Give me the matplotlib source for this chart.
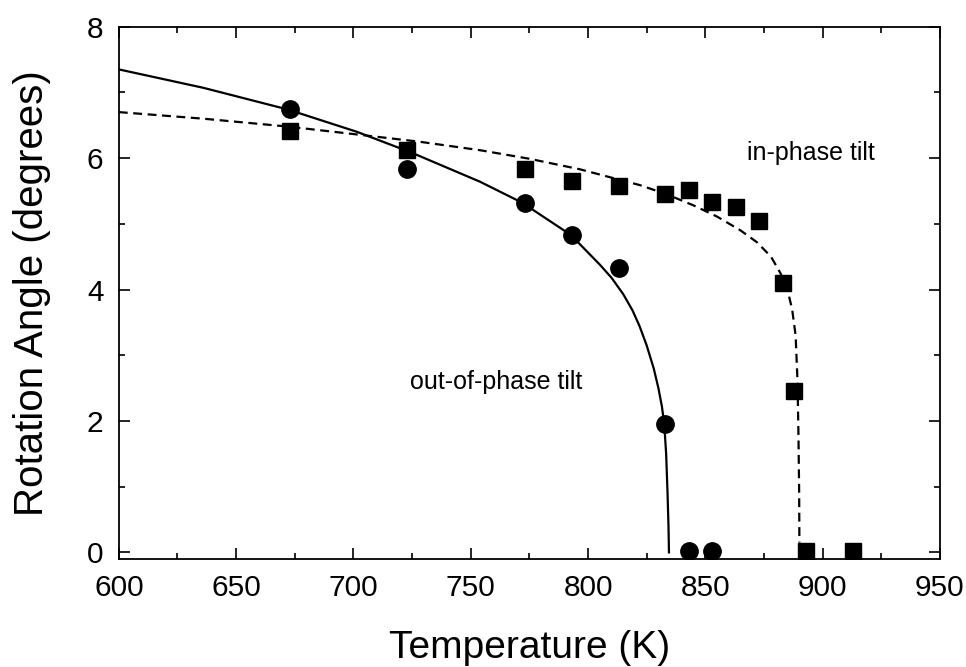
import numpy as np
import matplotlib
matplotlib.use("Agg")
import matplotlib.pyplot as plt
from matplotlib.ticker import MultipleLocator

plt.rcParams['font.family'] = ['Liberation Sans', 'DejaVu Sans']

# Measured rotation angles (degrees) vs temperature (K)
outPhaseT = [673, 723, 773, 793, 813, 833, 843, 853]
outPhaseAngle = [6.75, 5.84, 5.32, 4.83, 4.32, 1.95, 0.02, 0.02]

inPhaseT = [673, 723, 773, 793, 813, 833, 843, 853, 863, 873, 883, 888, 893, 913]
inPhaseAngle = [6.42, 6.13, 5.83, 5.65, 5.58, 5.45, 5.52, 5.33, 5.25, 5.05, 4.10, 2.45, 0.02, 0.02]

# Fitted curves
outFitT = [600, 636, 672, 701.5, 725, 754, 772, 792.7, 805, 810, 815, 819, 822, 825,
           828, 830, 831.5, 832.5, 833.3, 833.9, 834.3, 834.5]
outFitAngle = [7.35, 7.07, 6.74, 6.40, 6.08, 5.64, 5.32, 4.83, 4.38, 4.18, 3.93, 3.68, 3.44, 3.15,
               2.80, 2.50, 2.22, 1.95, 1.50, 0.90, 0.40, 0.00]

inFitT = [600, 636, 672, 701.5, 728, 754, 775, 796.5, 822, 833.5, 845, 855, 865, 872,
          878, 882, 885, 887, 888.5, 889.3, 889.7, 890, 890.1]
inFitAngle = [6.70, 6.60, 6.48, 6.36, 6.25, 6.12, 5.99, 5.83, 5.59, 5.45, 5.28, 5.11, 4.90, 4.72,
              4.50, 4.25, 4.00, 3.70, 3.30, 2.60, 1.80, 0.90, 0.15]

fig = plt.figure(figsize=(9.66, 6.67), dpi=100)
ax = fig.add_axes([0.123, 0.162, 0.850, 0.798])

# Fit lines
ax.plot(outFitT, outFitAngle, color='black', linewidth=1.6)
ax.plot(inFitT, inFitAngle, color='black', linewidth=1.6, linestyle=(0, (4, 2.5)))

# Data points
ax.plot(outPhaseT, outPhaseAngle, 'o', color='black', markersize=12.5)
ax.plot(inPhaseT, inPhaseAngle, 's', color='black', markersize=11.5)

ax.text(761, 2.59, "out-of-phase tilt", fontsize=18, ha='center', va='center')
ax.text(895, 6.08, "in-phase tilt", fontsize=18, ha='center', va='center')

ax.set_xlim(600, 950)
ax.set_ylim(-0.1, 8)
ax.xaxis.set_major_locator(MultipleLocator(50))
ax.xaxis.set_minor_locator(MultipleLocator(25))
ax.yaxis.set_major_locator(MultipleLocator(2))
ax.yaxis.set_minor_locator(MultipleLocator(1))

ax.tick_params(which='both', direction='in', top=True, right=True, labelsize=21.5, width=1.2)
ax.tick_params(which='major', length=8, pad=11)
ax.tick_params(which='minor', length=4.5)
for spine in ax.spines.values():
  spine.set_linewidth(1.3)

ax.set_xlabel("Temperature (K)", fontsize=28)
ax.set_ylabel("Rotation Angle (degrees)", fontsize=29)
ax.xaxis.set_label_coords(0.5, -0.133)
ax.yaxis.set_label_coords(-0.082, 0.5)

fig.savefig("out.png", dpi=100)
